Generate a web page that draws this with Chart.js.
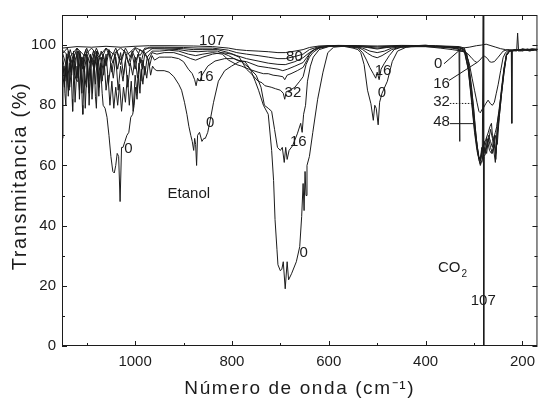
<!DOCTYPE html>
<html>
<head>
<meta charset="utf-8">
<script src="https://cdn.jsdelivr.net/npm/chart.js@4"></script>
<style>
  html, body { margin: 0; padding: 0; background: #fff; }
  canvas { display: block; }
</style>
</head>
<body>
<canvas id="spectrum" width="542" height="402"></canvas>
<script>
// Ticks
const xTicks = [1000, 800, 600, 400, 200];
const xMinor = [1100, 900, 700, 500, 300];
const yTicks = [0, 20, 40, 60, 80, 100];
const yMinor = [10, 30, 50, 70, 90];

// Exposure of each spectrum
const exposures = [0, 16, 32, 48, 64, 80, 96, 107];

// [wavenumber (cm-1), transmittance (%)]
const t0 = [[1151,69],[1149,90],[1147,93],[1145,84],[1143,80],[1141,95],[1138,86],[1136,85],[1133,96],[1130,82],[1129,78],[1126,94],[1123,89],[1120,88],[1118,97],[1115,82],[1112,95],[1109,80],[1108,77],[1105,93],[1102,87],[1100,86],[1098,96],[1095,80],[1092,92],[1088,84],[1085,97],[1082,83],[1080,79],[1077,94],[1074,86],[1071,92],[1068,84],[1066,80],[1062,79],[1058,76],[1054,70],[1050,63],[1046,58],[1043,57.5],[1040,60],[1037,64],[1034,63],[1031,48],[1028,66],[1025,66],[1021,68],[1017,70],[1013,71],[1009,76],[1005,77],[1002,80],[999,86],[996,82],[993,90],[990,84],[987,92],[984,87],[980,93],[976,89],[972,95],[968,90],[964,93],[960,92],[955,91.5],[940,91.5],[930,91],[920,89.5],[910,87],[904,85],[898,81],[893,77],[889,73],[885,70],[882,68],[879,65],[877,69],[875,67],[873,60],[871,70],[867,71],[862,68],[858,69],[855,69],[850,71],[845,75],[838,81],[828,88],[815,91.5],[801,93],[785,94.5],[773,94.5],[762,92],[752,88],[745,85],[735,80],[725,77],[718,65],[714,55],[711,42],[707,32],[705,27],[700,25],[697,25.5],[694,28],[690,19],[686,28],[683,22],[677,24],[667,28],[660,33],[656,43],[653,54],[651,45],[649,58],[647,50],[645,60],[640,63],[633,71],[623,82],[612,91],[602,97.5],[590,99.3],[570,99.6],[550,99],[540,98.5],[534,97.5],[527,93.5],[520,85],[513,80.5],[508,75],[505,80],[502,79],[498,73.5],[495,81],[490,84],[479,88],[469,94.5],[458,98],[440,99.3],[420,99.8],[400,100],[380,99.5],[360,99.5],[340,99],[325,99],[310,99.3],[295,99.8],[285,100],[275,100.3],[265,99.8],[255,99.3],[245,98.8],[235,98.5],[225,98.2],[215,98.5],[205,98],[195,98.5],[185,98],[175,98.5],[169,98]];

const t16 = [[1151,92],[1146,86],[1142,97],[1138,83],[1135,94],[1131,90],[1127,98],[1124,81],[1120,93],[1117,89],[1113,97],[1110,84],[1106,96],[1103,79],[1099,94],[1096,88],[1092,97],[1089,82],[1085,95],[1082,87],[1078,96],[1075,83],[1071,94],[1068,88],[1064,95],[1060,85],[1056,90],[1052,80],[1048,88],[1044,79],[1040,86],[1036,80],[1032,87],[1028,78],[1024,86],[1020,81],[1016,90],[1012,80],[1008,88],[1004,78],[1000,90],[996,84],[992,94],[988,88],[984,95],[980,90],[975,96],[970,93],[965,96.5],[960,95],[950,96],[940,96],[925,96],[910,95.5],[900,94.5],[890,92],[882,90.5],[877,88.5],[874,86.5],[871,89],[866,88],[862,90],[850,93],[835,94.7],[815,95.5],[795,95.5],[780,94.5],[765,92.5],[750,90],[740,86],[733,80],[725,79],[718,78],[712,72],[706,66],[700,65],[696,66],[692,61],[689,66],[686,62],[682,65],[675,66.5],[665,70.5],[658,74],[655,71],[652,77],[648,80],[644,88],[638,93],[632,96],[620,98.5],[600,99.5],[580,99.7],[560,99.5],[540,99],[530,97.5],[522,95],[515,92.5],[508,90.5],[503,89],[500,91],[496,88.5],[492,92],[485,94],[475,96.5],[465,98.5],[450,99.3],[420,99.5],[400,99.5],[370,99],[345,98.5],[325,98],[312,97],[304,95.5],[299,94.7],[294,94.2],[288,95],[283,96],[278,96.3],[272,95.5],[268,94.5],[264,94.3],[258,94.5],[250,96],[240,98],[230,98.5],[220,98.3],[200,98.5],[185,98.2],[169,98.5]];

const t32 = [[1151,95],[1145,88],[1140,96],[1135,86],[1130,95],[1125,90],[1120,98],[1115,85],[1110,96],[1105,91],[1100,97],[1095,84],[1090,95],[1085,92],[1080,98],[1075,86],[1070,96],[1065,90],[1060,97],[1055,87],[1050,94],[1045,89],[1040,96],[1035,85],[1030,93],[1025,88],[1020,95],[1015,86],[1010,94],[1005,90],[1000,96],[995,89],[990,96],[985,92],[980,97],[972,95],[965,97.5],[955,97],[940,97.5],[920,97.5],[900,96.5],[885,95.5],[875,95],[860,96],[840,97],[820,97.5],[800,97],[785,96],[770,92],[760,90.5],[746,88],[738,87.5],[732,86.5],[719,86],[710,85.5],[700,85],[694,84],[691,82],[688,84.5],[680,85],[670,86],[660,88],[653,89.5],[647,93.5],[640,96],[633,97.5],[620,99],[600,99.6],[580,99.7],[560,99.6],[540,99.2],[530,98.5],[520,97.3],[510,96.3],[500,95.8],[490,96.5],[480,97.5],[470,98.5],[455,99.2],[430,99.5],[400,99.5],[370,99.3],[345,99],[330,98.5],[319,98],[310,94],[304,89],[299,85],[294,81],[290,78],[287,77.5],[284,78.5],[281,79],[276,80.5],[271,81.7],[266,80.5],[262,80],[258,81],[254,84],[250,87],[245,91.5],[240,95.8],[235,97.5],[229,98.2],[220,98],[210,98.5],[200,98],[190,98.7],[180,98.2],[169,98.6]];

const t48 = [[1151,97],[1144,90],[1138,98],[1132,91],[1126,97],[1120,89],[1114,98],[1108,92],[1102,97],[1096,88],[1090,96],[1084,92],[1078,98],[1072,90],[1066,97],[1060,93],[1054,98],[1048,91],[1042,97],[1036,92],[1030,97.5],[1024,90],[1018,97],[1012,93],[1006,97],[1000,92],[994,97],[988,94],[982,98],[975,96],[965,98],[950,98],[930,98.3],[910,98],[890,97],[875,96.5],[860,97],[840,97.5],[820,97],[807,95],[790,93.5],[780,93],[765,92],[746,91],[735,90.5],[725,90.5],[715,90],[705,89.8],[695,89.5],[691,88.5],[686,90],[678,90.5],[665,91.5],[653,92.6],[645,95],[640,97],[630,98.5],[615,99.2],[600,99.6],[570,99.8],[545,99.5],[530,99],[515,98],[500,97.5],[485,98],[470,99],[450,99.5],[420,99.7],[390,99.6],[360,99.3],[330,99],[320,98.2],[315,97.4],[308,89],[301,79.5],[296,70],[291,63.2],[288,62],[284,64],[281,66.5],[276,68.5],[271,70.8],[267,73],[264,74],[262,70],[260,68.6],[256,71],[253,73],[248,79],[243,85],[238,92],[233,97],[226,98],[215,98.3],[200,98.5],[185,98.2],[169,98.6]];

const t64 = [[1151,98],[1142,93],[1134,98.5],[1126,94],[1118,98],[1110,93],[1102,98.5],[1094,94],[1086,98],[1078,92.5],[1070,98],[1062,94],[1054,98.5],[1046,94],[1038,98],[1030,93.5],[1022,98],[1014,94],[1006,98],[998,95],[990,98.5],[980,97],[965,98.8],[940,98.7],[910,98.5],[890,98],[870,97.8],[850,98],[830,98],[807,96.5],[790,95],[770,94.5],[746,93],[725,92.5],[705,92],[695,91.5],[685,92],[670,93],[653,94.2],[645,96],[635,98],[620,99.2],[600,99.7],[570,99.8],[540,99.6],[520,99.2],[500,98.7],[480,99.2],[450,99.6],[400,99.7],[360,99.4],[335,99],[331,98.5],[330,68],[329,98],[320,97.8],[312,92],[305,82],[299,72],[294,66],[290,62.5],[287,61.5],[284,65],[281,67],[277,64],[274,69],[270,68],[266,72],[262,69],[259,66],[256,70],[252,67],[248,76],[243,84],[238,91],[233,96.5],[226,98],[215,98.4],[200,98.5],[185,98.3],[169,98.6]];

const t80 = [[1151,97],[1140,99],[1130,94],[1120,99],[1110,95],[1100,99],[1090,94.5],[1080,99],[1070,95],[1060,99],[1050,95.5],[1040,99],[1030,95],[1020,99],[1010,96],[1000,99],[990,96.5],[980,99],[960,99],[930,99],[900,98.8],[880,98.5],[860,98.5],[830,98.5],[807,97.5],[790,96.5],[770,95.5],[746,94.7],[725,94],[705,93.6],[690,93.5],[670,94.5],[653,95.8],[640,97.5],[625,99],[600,99.7],[560,99.8],[530,99.5],[500,99],[470,99.5],[420,99.8],[360,99.5],[330,99.2],[320,98.5],[312,93],[305,83],[299,73],[294,67],[290,63],[287,62],[284,66],[281,64],[278,68],[274,66],[270,70],[266,68],[262,66],[258,70],[255,64],[252,74],[248,78],[243,86],[238,92.5],[233,97],[226,98.2],[223,98],[222,74],[221,98],[215,98.5],[200,98.4],[185,98.5],[169,98.6]];

const t96 = [[1151,98.5],[1135,96],[1120,99],[1105,96.5],[1090,99],[1075,96],[1060,99],[1045,97],[1030,99],[1015,97],[1000,99.2],[985,98],[970,99.3],[940,99.3],[900,99.2],[870,99],[840,99],[807,98.3],[790,97.5],[770,97],[746,96.5],[725,96],[705,95.5],[690,95.5],[670,96.2],[653,97],[640,98.5],[620,99.5],[600,99.8],[540,99.8],[500,99.4],[450,99.8],[380,99.7],[330,99.3],[320,98.5],[312,92],[305,81],[299,71],[294,65],[290,62],[287,60.5],[284,64],[281,61],[278,66],[274,64],[270,69],[266,66],[262,64],[258,67],[255,62],[252,71],[248,77],[243,85],[238,92],[233,96.5],[226,98.3],[200,98.6],[169,98.6]];

const t107 = [[1151,99],[1120,99.5],[1090,99.3],[1060,99.6],[1030,99.3],[1000,99.6],[970,99.8],[930,99.8],[880,99.7],[840,99.5],[807,99],[790,98.5],[770,98.2],[746,98],[725,97.8],[705,97.5],[690,97.5],[670,98],[653,98.5],[640,99.2],[620,99.7],[580,99.9],[540,99.8],[500,99.7],[450,99.9],[380,99.8],[330,99.5],[320,99],[312,95],[305,86],[299,75],[294,67],[290,62],[287,60],[283,62],[281,115],[280,0],[279,63],[276,64],[272,68],[268,65],[264,64],[260,66],[256,61],[252,70],[248,76],[243,84],[238,91],[233,96.5],[226,98.3],[212,98],[210,104],[208,98],[200,98.8],[190,98.3],[180,98.8],[169,98.5]];

const series = [t0, t16, t32, t48, t64, t80, t96, t107];

// Text placed on the plot (data units)
const notes = [
  { text: '107', x: 842, y: 101.3 },
  { text: '16', x: 855, y: 89.5 },
  { text: '0', x: 845, y: 74 },
  { text: '0', x: 1014, y: 65.5 },
  { text: 'Etanol', x: 889, y: 50.5 },
  { text: '80', x: 671, y: 96 },
  { text: '32', x: 674, y: 84 },
  { text: '16', x: 663, y: 68 },
  { text: '0', x: 652, y: 31 },
  { text: '16', x: 488, y: 91.5 },
  { text: '0', x: 490, y: 84 },
  { text: '0', x: 374, y: 93.6 },
  { text: '16', x: 367, y: 87 },
  { text: '32', x: 367, y: 81.3 },
  { text: '48', x: 367, y: 74.6 },
  { text: '107', x: 281, y: 15 }
];
const leaders = [
  { from: [362, 93.8], to: [325, 99], dash: false },
  { from: [352, 88.2], to: [294, 94.2], dash: false },
  { from: [350, 80.6], to: [301, 80.6], dash: true },
  { from: [350, 73.9], to: [302, 73.9], dash: false }
];

const FONT = '"Liberation Sans", Arial, sans-serif';
const INK = '#1c1c1c';

const decor = {
  id: 'decor',
  afterDraw(chart) {
    const { ctx, chartArea: a, scales: { x, y } } = chart;
    ctx.save();
    ctx.strokeStyle = INK;
    ctx.lineWidth = 1;
    ctx.strokeRect(a.left + 0.5, a.top + 0.5, a.right - a.left - 1, a.bottom - a.top - 1);

    const seg = (x1, y1, x2, y2) => { ctx.beginPath(); ctx.moveTo(x1, y1); ctx.lineTo(x2, y2); ctx.stroke(); };
    const xt = (list, len) => list.forEach(v => {
      const p = Math.round(x.getPixelForValue(v)) + 0.5;
      seg(p, a.bottom, p, a.bottom - len);
      seg(p, a.top, p, a.top + len);
    });
    const yt = (list, len) => list.forEach(v => {
      const p = Math.round(y.getPixelForValue(v)) + 0.5;
      seg(a.left, p, a.left + len, p);
      seg(a.right, p, a.right - len, p);
    });
    xt(xTicks, 5); xt(xMinor, 3);
    yt(yTicks, 5); yt(yMinor, 3);

    // leader lines for the CO2 band
    leaders.forEach(l => {
      ctx.setLineDash(l.dash ? [1.5, 1.5] : []);
      seg(x.getPixelForValue(l.from[0]), y.getPixelForValue(l.from[1]),
          x.getPixelForValue(l.to[0]), y.getPixelForValue(l.to[1]));
    });
    ctx.setLineDash([]);

    ctx.fillStyle = INK;
    ctx.font = '15px ' + FONT;
    ctx.textAlign = 'center';
    ctx.textBaseline = 'middle';
    notes.forEach(n => ctx.fillText(n.text, x.getPixelForValue(n.x), y.getPixelForValue(n.y)));

    // CO2 with subscript
    const cx = x.getPixelForValue(345), cy = y.getPixelForValue(26);
    ctx.textAlign = 'left';
    const w = ctx.measureText('CO').width;
    ctx.fillText('CO', cx - w / 2 - 3, cy);
    ctx.font = '10px ' + FONT;
    ctx.fillText('2', cx + w / 2 - 2, cy + 6);

    // axis titles
    ctx.textAlign = 'center';
    ctx.font = '19px ' + FONT;
    ctx.letterSpacing = '1.6px';
    ctx.fillText('Número de onda (cm\u207B\u00B9)', (a.left + a.right) / 2, 389);
    ctx.translate(20, 176);
    ctx.rotate(-Math.PI / 2);
    ctx.font = '20px ' + FONT;
    ctx.letterSpacing = '1.6px';
    ctx.fillText('Transmitancia (%)', 0, 0);
    ctx.restore();
  }
};

new Chart(document.getElementById('spectrum'), {
  type: 'line',
  data: {
    datasets: exposures.map((e, i) => ({
      label: String(e),
      data: series[i].map(([wn, tr]) => ({ x: wn, y: tr })),
      borderColor: INK,
      borderWidth: 1,
      pointRadius: 0,
      tension: 0,
      fill: false
    }))
  },
  options: {
    responsive: false,
    animation: false,
    devicePixelRatio: 1,
    layout: { padding: { top: 10, right: 1, left: 0, bottom: 0 } },
    plugins: { legend: { display: false }, tooltip: { enabled: false } },
    scales: {
      x: {
        type: 'linear',
        reverse: true,
        min: 169,
        max: 1151,
        grid: { display: false, drawTicks: false },
        border: { display: false },
        ticks: { color: INK, font: { family: FONT, size: 15 }, padding: 7, maxRotation: 0, autoSkip: false, callback: v => String(v) },
        afterBuildTicks: s => { s.ticks = xTicks.map(v => ({ value: v })); },
        afterFit: s => { s.height = 56; }
      },
      y: {
        min: 0,
        max: 110,
        grid: { display: false, drawTicks: false },
        border: { display: false },
        ticks: { color: INK, font: { family: FONT, size: 15 }, padding: 6, callback: v => String(v) },
        afterBuildTicks: s => { s.ticks = yTicks.map(v => ({ value: v })); },
        afterFit: s => { s.width = 62; }
      }
    }
  },
  plugins: [decor]
});
</script>
</body>
</html>
